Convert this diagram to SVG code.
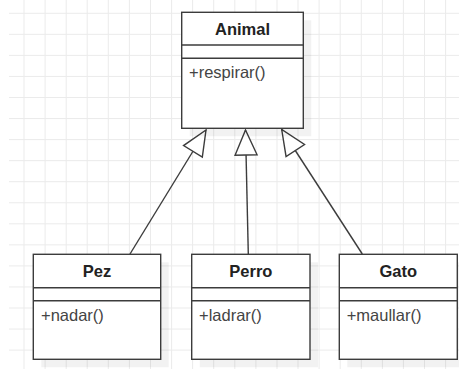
<svg xmlns="http://www.w3.org/2000/svg" width="459" height="369" viewBox="0 0 459 369">
  <style>
    .grid { stroke: #ebebeb; stroke-width: 1; fill: none; }
    .shadow { fill: #000; opacity: 0.05; }
    .box { fill: #fff; stroke: #3c3c3c; stroke-width: 1.4; }
    .sep { stroke: #3c3c3c; stroke-width: 1.4; fill: none; }
    .title { font-family: "Liberation Sans", Arial, sans-serif; font-size: 16.5px; font-weight: bold; fill: #222; text-anchor: middle; }
    .member { font-family: "Liberation Sans", Arial, sans-serif; font-size: 16.5px; fill: #444; }
    .edge { stroke: #3c3c3c; stroke-width: 1.4; fill: none; marker-end: url(#inherit); }
  </style>
  <defs>
    <!-- hollow triangle for generalization -->
    <marker id="inherit" markerUnits="userSpaceOnUse" orient="auto" refX="0" refY="0" markerWidth="30" markerHeight="30" overflow="visible">
      <path d="M0,0 L-25,-11 L-25,11 Z" fill="#fff" stroke="#3c3c3c" stroke-width="1.4" stroke-linejoin="miter"/>
    </marker>
  </defs>

  <rect width="459" height="369" fill="#fff"/>

  <!-- background grid -->
  <path class="grid" d="
    M24,0V369 M45.1,0V369 M66.2,0V369 M87.2,0V369 M108.3,0V369 M129.4,0V369 M150.5,0V369
    M171.6,0V369 M192.6,0V369 M213.7,0V369 M234.8,0V369 M255.9,0V369 M277,0V369 M298,0V369
    M319.1,0V369 M340.2,0V369 M361.3,0V369 M382.4,0V369 M403.4,0V369 M424.5,0V369 M445.6,0V369
    M9,13.3H459 M9,34.35H459 M9,55.4H459 M9,76.45H459 M9,97.5H459 M9,118.55H459 M9,139.6H459
    M9,160.65H459 M9,181.7H459 M9,202.75H459 M9,223.8H459 M9,244.85H459 M9,265.9H459
    M9,286.95H459 M9,308H459 M9,329.05H459 M9,350.1H459"/>

  <!-- generalization connectors -->
  <g id="connectors">
    <path class="edge" d="M130,254 L206,130"/>
    <path class="edge" d="M248.3,254 L245.5,130"/>
    <path class="edge" d="M362.3,254 L281.7,129.5"/>
  </g>

  <g id="animal">
    <rect class="shadow" x="189.7" y="20.3" width="121.6" height="116"/>
    <rect class="box" x="181.7" y="12.3" width="121.6" height="116"/>
    <path class="sep" d="M181.7,45H303.3 M181.7,58.3H303.3"/>
    <text class="title" x="242.5" y="35">Animal</text>
    <text class="member" x="189" y="77.5">+respirar()</text>
  </g>

  <g id="pez">
    <rect class="shadow" x="41.3" y="262.3" width="127.4" height="105"/>
    <rect class="box" x="33.3" y="254.3" width="127.4" height="105"/>
    <path class="sep" d="M33.3,287.7H160.7 M33.3,300.7H160.7"/>
    <text class="title" x="97" y="276.5">Pez</text>
    <text class="member" x="41" y="320.5">+nadar()</text>
  </g>

  <g id="perro">
    <rect class="shadow" x="199.7" y="262.3" width="118.3" height="105"/>
    <rect class="box" x="191.7" y="254.3" width="118.3" height="105"/>
    <path class="sep" d="M191.7,287.7H310 M191.7,300.7H310"/>
    <text class="title" x="250.9" y="276.5">Perro</text>
    <text class="member" x="199" y="320.5">+ladrar()</text>
  </g>

  <g id="gato">
    <rect class="shadow" x="347.3" y="262.3" width="118" height="105"/>
    <rect class="box" x="339.3" y="254.3" width="118" height="105"/>
    <path class="sep" d="M339.3,287.7H457.3 M339.3,300.7H457.3"/>
    <text class="title" x="398.3" y="276.5">Gato</text>
    <text class="member" x="346.7" y="320.5">+maullar()</text>
  </g>
</svg>
